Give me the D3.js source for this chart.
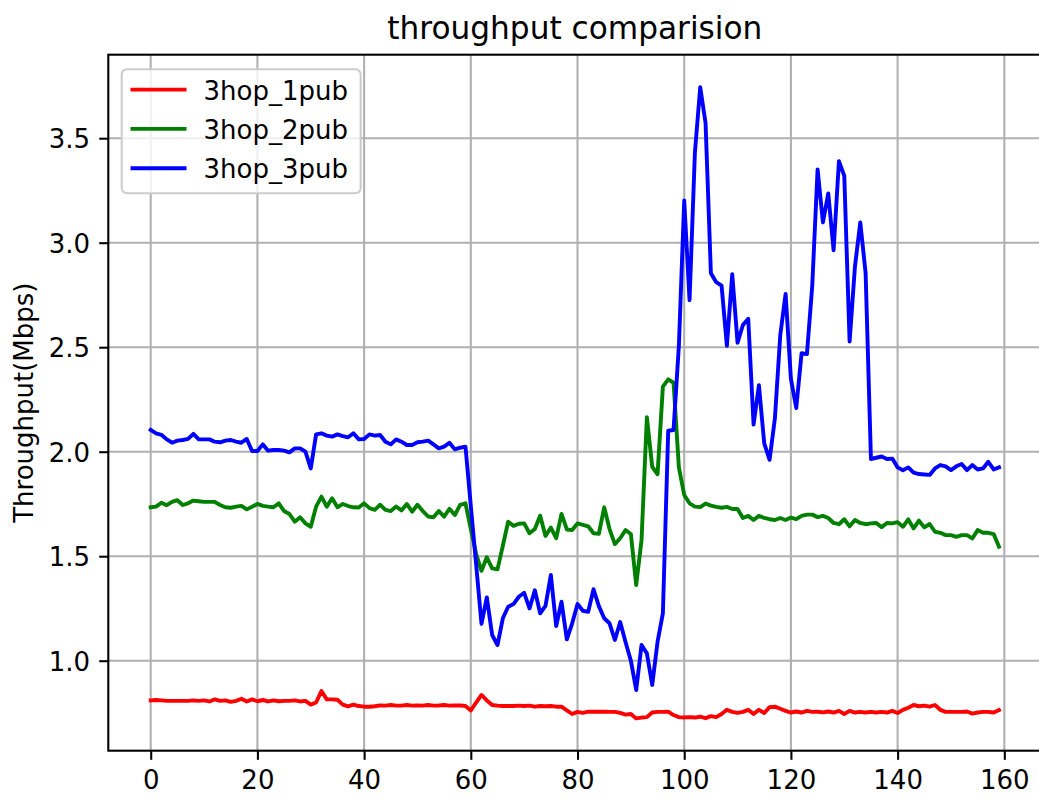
<!DOCTYPE html>
<html>
<head>
<meta charset="utf-8">
<script src="https://cdn.jsdelivr.net/npm/d3@7"></script>
<style>
  html, body { margin: 0; padding: 0; background: #fff; overflow: hidden; }
  svg { display: block; font-family: "DejaVu Sans", sans-serif; }
</style>
</head>
<body>
<svg id="chart" width="1039" height="799"></svg>
<script>
const title = "throughput comparision";
const yLabel = "Throughput(Mbps)";
const seriesNames = ["3hop_1pub", "3hop_2pub", "3hop_3pub"];
const seriesColors = ["#ff0000", "#008000", "#0000ff"];
const xTicks = [0, 20, 40, 60, 80, 100, 120, 140, 160];
const yTicks = [1.0, 1.5, 2.0, 2.5, 3.0, 3.5];
const yTickLabels = ["1.0", "1.5", "2.0", "2.5", "3.0", "3.5"];

const hop1pub = [
  0.810, 0.812, 0.810, 0.808, 0.808, 0.808, 0.808, 0.808, 0.810, 0.808,
  0.810, 0.805, 0.815, 0.808, 0.810, 0.803, 0.808, 0.818, 0.805, 0.815,
  0.806, 0.812, 0.805, 0.810, 0.806, 0.808, 0.808, 0.810, 0.805, 0.808,
  0.790, 0.800, 0.855, 0.815, 0.815, 0.813, 0.790, 0.782, 0.790, 0.783,
  0.780, 0.780, 0.782, 0.786, 0.785, 0.788, 0.785, 0.785, 0.788, 0.785,
  0.786, 0.785, 0.788, 0.785, 0.786, 0.788, 0.785, 0.786, 0.786, 0.783,
  0.762, 0.800, 0.836, 0.810, 0.788, 0.785, 0.783, 0.783, 0.783, 0.785,
  0.783, 0.785, 0.780, 0.783, 0.782, 0.783, 0.780, 0.780, 0.762, 0.745,
  0.755, 0.750, 0.756, 0.756, 0.756, 0.756, 0.755, 0.755, 0.750, 0.742,
  0.745, 0.724, 0.728, 0.730, 0.752, 0.755, 0.755, 0.756, 0.740, 0.730,
  0.728, 0.730, 0.728, 0.732, 0.725, 0.735, 0.730, 0.745, 0.765, 0.755,
  0.750, 0.755, 0.765, 0.745, 0.765, 0.750, 0.778, 0.780, 0.770, 0.760,
  0.752, 0.757, 0.752, 0.760, 0.755, 0.756, 0.753, 0.757, 0.752, 0.760,
  0.745, 0.760, 0.752, 0.755, 0.752, 0.755, 0.752, 0.755, 0.752, 0.760,
  0.750, 0.765, 0.775, 0.788, 0.782, 0.785, 0.780, 0.788, 0.765, 0.755,
  0.755, 0.755, 0.755, 0.757, 0.747, 0.752, 0.755, 0.755, 0.752, 0.764
];
const hop2pub = [
  1.734, 1.737, 1.756, 1.744, 1.760, 1.768, 1.745, 1.753, 1.766, 1.763,
  1.760, 1.760, 1.760, 1.745, 1.734, 1.732, 1.737, 1.741, 1.724, 1.737,
  1.750, 1.741, 1.737, 1.734, 1.753, 1.716, 1.702, 1.665, 1.686, 1.657,
  1.641, 1.737, 1.785, 1.737, 1.777, 1.734, 1.750, 1.740, 1.734, 1.733,
  1.753, 1.730, 1.722, 1.746, 1.722, 1.716, 1.738, 1.719, 1.750, 1.713,
  1.746, 1.716, 1.690, 1.686, 1.716, 1.689, 1.727, 1.697, 1.746, 1.753,
  1.630, 1.510, 1.430, 1.495, 1.442, 1.437, 1.550, 1.665, 1.645, 1.655,
  1.657, 1.610, 1.630, 1.694, 1.597, 1.637, 1.586, 1.702, 1.628, 1.625,
  1.657, 1.650, 1.643, 1.610, 1.607, 1.734, 1.630, 1.558, 1.586, 1.625,
  1.606, 1.362, 1.578, 2.165, 1.928, 1.892, 2.311, 2.346, 2.330, 1.925,
  1.793, 1.753, 1.737, 1.735, 1.752, 1.742, 1.736, 1.732, 1.736, 1.726,
  1.726, 1.683, 1.693, 1.673, 1.693, 1.683, 1.677, 1.673, 1.683, 1.673,
  1.685, 1.677, 1.693, 1.699, 1.699, 1.687, 1.693, 1.683, 1.659, 1.653,
  1.677, 1.643, 1.673, 1.659, 1.653, 1.657, 1.659, 1.639, 1.659, 1.657,
  1.663, 1.641, 1.676, 1.633, 1.670, 1.638, 1.654, 1.617, 1.612, 1.601,
  1.601, 1.593, 1.601, 1.601, 1.585, 1.625, 1.612, 1.612, 1.606, 1.545
];
const hop3pub = [
  2.104, 2.088, 2.081, 2.059, 2.043, 2.053, 2.056, 2.061, 2.085, 2.059,
  2.059, 2.059, 2.048, 2.045, 2.053, 2.056, 2.048, 2.043, 2.061, 2.003,
  2.003, 2.035, 2.005, 2.008, 2.008, 2.005, 1.997, 2.016, 2.016, 2.000,
  1.920, 2.083, 2.088, 2.077, 2.072, 2.083, 2.075, 2.069, 2.088, 2.059,
  2.061, 2.083, 2.077, 2.080, 2.048, 2.035, 2.059, 2.048, 2.032, 2.032,
  2.045, 2.048, 2.053, 2.035, 2.016, 2.024, 2.043, 2.011, 2.019, 2.024,
  1.740, 1.460, 1.176, 1.303, 1.123, 1.075, 1.203, 1.258, 1.271, 1.306,
  1.325, 1.250, 1.337, 1.227, 1.262, 1.410, 1.166, 1.282, 1.102, 1.179,
  1.271, 1.239, 1.234, 1.342, 1.261, 1.203, 1.179, 1.099, 1.185, 1.090,
  1.000, 0.860, 1.075, 1.035, 0.884, 1.090, 1.226, 2.100, 2.104, 2.507,
  3.202, 2.725, 3.430, 3.744, 3.573, 2.854, 2.811, 2.795, 2.507, 2.849,
  2.521, 2.606, 2.636, 2.130, 2.318, 2.040, 1.961, 2.160, 2.557, 2.755,
  2.348, 2.209, 2.471, 2.467, 2.795, 3.351, 3.097, 3.236, 2.964, 3.390,
  3.320, 2.527, 2.885, 3.097, 2.855, 1.965, 1.971, 1.977, 1.965, 1.967,
  1.925, 1.911, 1.925, 1.900, 1.893, 1.891, 1.889, 1.920, 1.936, 1.930,
  1.912, 1.930, 1.941, 1.912, 1.936, 1.915, 1.920, 1.952, 1.915, 1.925
];
const seriesValues = [hop1pub, hop2pub, hop3pub];
const steps = hop1pub.map((_, i) => i);

// layout
const W = 1039, H = 799;
const axL = 108.3, axR = 1041.4, axT = 54.7, axB = 750.7;
const fs = 26, titleFs = 31.2;
const lw = 2.08, tickLen = 9.1, pad = 9.1;

const svg = d3.select("#chart");

const x = d3.scaleLinear().domain([-7.95, 166.95]).range([axL, axR]);
const y = d3.scaleLinear().domain([0.5694, 3.8995]).range([axB, axT]);

// grid
const grid = svg.append("g");
grid.selectAll("line.gx").data(xTicks).join("line")
  .attr("x1", d => x(d)).attr("x2", d => x(d))
  .attr("y1", axT).attr("y2", axB)
  .attr("stroke", "#b0b0b0").attr("stroke-width", lw);
grid.selectAll("line.gy").data(yTicks).join("line")
  .attr("class", "gy")
  .attr("x1", axL).attr("x2", axR)
  .attr("y1", d => y(d)).attr("y2", d => y(d))
  .attr("stroke", "#b0b0b0").attr("stroke-width", lw);

// lines
const clipId = "plotclip";
svg.append("clipPath").attr("id", clipId).append("rect")
  .attr("x", axL).attr("y", axT).attr("width", axR - axL).attr("height", axB - axT);
const line = d3.line().x((d, i) => x(steps[i])).y(d => y(d));
svg.append("g").attr("clip-path", `url(#${clipId})`)
  .selectAll("path").data(seriesValues).join("path")
  .attr("d", d => line(d))
  .attr("fill", "none")
  .attr("stroke", (d, i) => seriesColors[i])
  .attr("stroke-width", 3.9)
  .attr("stroke-linejoin", "round")
  .attr("stroke-linecap", "square");

// axes via d3 axis generators
const xAxis = d3.axisBottom(x).tickValues(xTicks).tickFormat(d3.format("d"))
  .tickSize(tickLen).tickPadding(pad);
const gx = svg.append("g").attr("transform", `translate(0,${axB})`).call(xAxis);
gx.select(".domain").remove();
gx.selectAll(".tick line").attr("stroke", "#000").attr("stroke-width", lw);
gx.selectAll(".tick text").attr("font-size", fs).attr("fill", "#000")
  .attr("font-family", "DejaVu Sans").attr("dy", null)
  .attr("y", tickLen + pad + fs * 0.76);

const yAxis = d3.axisLeft(y).tickValues(yTicks).tickFormat((d, i) => yTickLabels[i])
  .tickSize(tickLen).tickPadding(pad);
const gy = svg.append("g").attr("transform", `translate(${axL},0)`).call(yAxis);
gy.select(".domain").remove();
gy.selectAll(".tick line").attr("stroke", "#000").attr("stroke-width", lw);
gy.selectAll(".tick text").attr("font-size", fs).attr("fill", "#000")
  .attr("font-family", "DejaVu Sans").attr("dy", null)
  .attr("y", fs * 0.729 / 2);

// spines
svg.append("rect")
  .attr("x", axL).attr("y", axT).attr("width", axR - axL).attr("height", axB - axT)
  .attr("fill", "none").attr("stroke", "#000").attr("stroke-width", lw);

// title
svg.append("text").attr("x", (axL + axR) / 2).attr("y", 39.3)
  .attr("text-anchor", "middle").attr("font-size", titleFs).attr("fill", "#000")
  .text(title);

// y label
svg.append("text")
  .attr("transform", `translate(32.5,${(axT + axB) / 2}) rotate(-90)`)
  .attr("text-anchor", "middle").attr("font-size", fs).attr("fill", "#000")
  .text(yLabel);

// legend
const leg = svg.append("g");
leg.append("rect")
  .attr("x", 121.7).attr("y", 69.3).attr("width", 239).attr("height", 124)
  .attr("rx", 5.2).attr("ry", 5.2)
  .attr("fill", "rgba(255,255,255,0.8)")
  .attr("stroke", "#cccccc").attr("stroke-width", 2.08);
const items = leg.selectAll("g.item").data(seriesNames).join("g")
  .attr("transform", (d, i) => `translate(0,${89.6 + i * 39.3})`);
items.append("line")
  .attr("x1", 130.5).attr("x2", 186.5).attr("y1", 0).attr("y2", 0)
  .attr("stroke", (d, i) => seriesColors[i]).attr("stroke-width", 3.9)
  .attr("stroke-linecap", "butt");
items.append("text")
  .attr("x", 203.5).attr("y", 10.2)
  .attr("font-size", fs).attr("fill", "#000")
  .text(d => d);
</script>
</body>
</html>
